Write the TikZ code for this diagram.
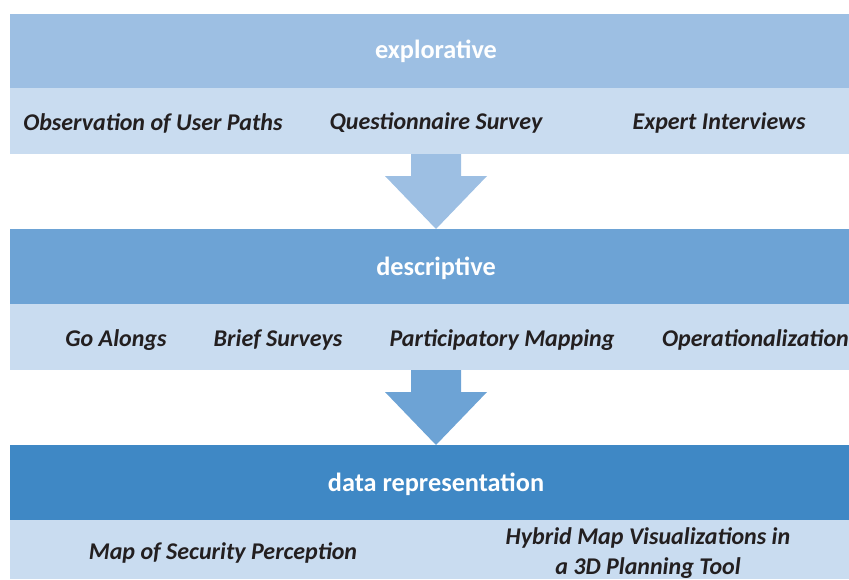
\documentclass[tikz,border=0pt]{standalone}
\usepackage{fontspec}
\setmainfont{Carlito}
\definecolor{hdA}{HTML}{9DBFE3}
\definecolor{hdB}{HTML}{6DA3D5}
\definecolor{hdC}{HTML}{3F88C5}
\definecolor{subC}{HTML}{C9DCF0}
\definecolor{txt}{HTML}{231F20}
\begin{document}
\begin{tikzpicture}[x=1pt,y=-1pt,
  hdtext/.style={text=white,font=\bfseries\fontsize{26.3}{30}\selectfont,anchor=center,inner sep=0pt},
  itemtext/.style={text=txt,font=\bfseries\itshape\fontsize{24}{30}\selectfont,anchor=center,inner sep=0pt,align=center}]
\useasboundingbox (0,0) rectangle (849,579);
% band 1
\fill[hdA] (10,14) rectangle (849,88);
\fill[subC] (10,88) rectangle (849,154);
\node[hdtext] (h1) at (436,51) {explorative};
\node[itemtext] (a1) at (153,123) {Observation of User Paths};
\node[itemtext] (a2) at (436,123) {Questionnaire Survey};
\node[itemtext] (a3) at (719,123) {Expert Interviews};
% arrow 1
\fill[hdA] (411,154) -- (461,154) -- (461,176) -- (487,176) -- (436,229) -- (385,176) -- (411,176) -- cycle;
% band 2
\fill[hdB] (10,229) rectangle (849,304);
\fill[subC] (10,304) rectangle (849,370);
\node[hdtext] (h2) at (436,268) {descriptive};
\node[itemtext] (b1) at (116,340) {Go Alongs};
\node[itemtext] (b2) at (278,340) {Brief Surveys};
\node[itemtext] (b3) at (502,340) {Participatory Mapping};
\node[itemtext,anchor=west] (b4) at (662,340) {Operationalization};
% arrow 2
\fill[hdB] (411,370) -- (461,370) -- (461,392) -- (487,392) -- (436,445) -- (385,392) -- (411,392) -- cycle;
% band 3
\fill[hdC] (10,445) rectangle (849,520);
\fill[subC] (10,520) rectangle (849,579);
\node[hdtext] (h3) at (436,484) {data representation};
\node[itemtext] (c1) at (223,553) {Map of Security Perception};
\node[itemtext] (c2) at (648,553) {Hybrid Map Visualizations in\\a 3D Planning Tool};
\end{tikzpicture}
\end{document}
